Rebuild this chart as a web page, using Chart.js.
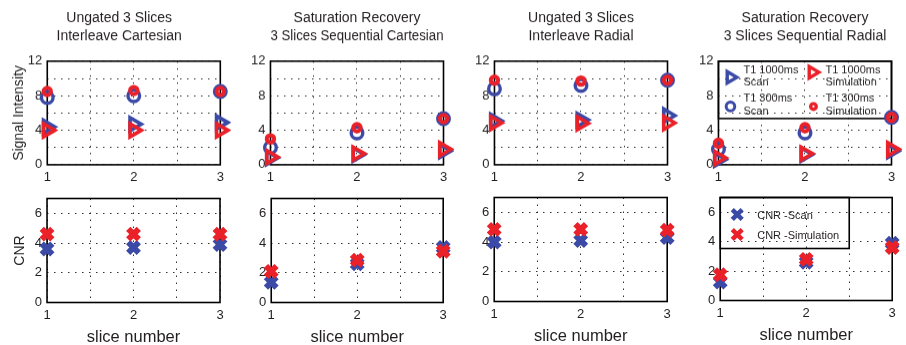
<!DOCTYPE html>
<html>
<head>
<meta charset="utf-8">
<script src="https://cdn.jsdelivr.net/npm/chart.js@4.4.1/dist/chart.umd.min.js"></script>
<style>
html,body{margin:0;padding:0;background:#fff;overflow:hidden;}
#root{position:relative;width:906px;height:345px;overflow:hidden;background:#fff;}
.cw{position:absolute;left:0;top:0;}
</style>
</head>
<body>
<div id="root"></div>
<script>
// ---------- data ----------
const slices = [1, 2, 3];
const sliceTicks = [1, 2, 3];
const signalTicks = [0, 4, 8, 12];
const cnrTicks = [0, 2, 4, 6];
const panelTitles = [
  ['Ungated 3 Slices', 'Interleave Cartesian'],
  ['Saturation Recovery', '3 Slices Sequential Cartesian'],
  ['Ungated 3 Slices', 'Interleave Radial'],
  ['Saturation Recovery', '3 Slices Sequential Radial']
];

// Ungated 3 slices, interleave Cartesian
const ucT1000Scan = [4.4, 4.7, 4.9];
const ucT1000Sim  = [4.0, 4.0, 4.0];
const ucT300Scan  = [7.8, 8.0, 8.5];
const ucT300Sim   = [8.5, 8.6, 8.5];
const ucCnrScan   = [3.6, 3.7, 3.9];
const ucCnrSim    = [4.6, 4.6, 4.6];

// Saturation recovery, 3 slices sequential Cartesian
const scT1000Scan = [0.8, 1.2, 1.6];
const scT1000Sim  = [0.9, 1.3, 1.8];
const scT300Scan  = [2.0, 3.7, 5.35];
const scT300Sim   = [3.0, 4.3, 5.35];
const scCnrScan   = [1.35, 2.6, 3.7];
const scCnrSim    = [2.1, 2.85, 3.45];

// Ungated 3 slices, interleave radial
const urT1000Scan = [5.1, 5.2, 5.7];
const urT1000Sim  = [4.85, 4.8, 4.85];
const urT300Scan  = [8.8, 9.2, 9.8];
const urT300Sim   = [9.8, 9.7, 9.8];
const urCnrScan   = [4.0, 4.1, 4.3];
const urCnrSim    = [4.85, 4.85, 4.8];

// Saturation recovery, 3 slices sequential radial
const srT1000Scan = [0.6, 1.2, 1.6];
const srT1000Sim  = [0.8, 1.3, 1.8];
const srT300Scan  = [1.8, 3.7, 5.5];
const srT300Sim   = [2.5, 4.3, 5.5];
const srCnrScan   = [1.25, 2.6, 3.9];
const srCnrSim    = [1.75, 2.8, 3.6];

// ---------- style ----------
const FONT = "'Liberation Sans', Arial, sans-serif";
const INK = '#231f20';
const BLUE = '#3b4aa7';
const RED = '#ea2129';
const GRID = '#333';

const topSeries = [
  [ucT1000Scan, ucT1000Sim, ucT300Scan, ucT300Sim],
  [scT1000Scan, scT1000Sim, scT300Scan, scT300Sim],
  [urT1000Scan, urT1000Sim, urT300Scan, urT300Sim],
  [srT1000Scan, srT1000Sim, srT300Scan, srT300Sim]
];
const botSeries = [
  [ucCnrScan, ucCnrSim],
  [scCnrScan, scCnrSim],
  [urCnrScan, urCnrSim],
  [srCnrScan, srCnrSim]
];

const topBoxes = [
  {L: 47, R: 220, T: 61, B: 164},
  {L: 270, R: 443, T: 61, B: 164},
  {L: 494, R: 667, T: 61, B: 164},
  {L: 718, R: 891, T: 61, B: 164}
];
const botBoxes = [
  {L: 47, R: 220, T: 198, B: 302},
  {L: 271, R: 443, T: 198, B: 302},
  {L: 494, R: 667, T: 197, B: 301},
  {L: 720, R: 892, T: 197, B: 300}
];

function pts(vals) { return slices.map((s, i) => ({x: s, y: vals[i]})); }

function ds(label, vals, style, color, r, bw, rot) {
  return {
    label, data: pts(vals), pointStyle: style, pointRadius: r, pointHoverRadius: r,
    pointBorderWidth: bw, pointHoverBorderWidth: bw, pointBorderColor: color,
    pointBackgroundColor: 'rgba(0,0,0,0)', pointRotation: rot || 0,
    borderColor: color, backgroundColor: 'rgba(0,0,0,0)', clip: false, showLine: false
  };
}

function mark(ctx, style, x, y, r, bw, color) {
  ctx.save();
  ctx.strokeStyle = color; ctx.lineWidth = bw; ctx.beginPath();
  if (style === 'triR') {
    for (let k = 0; k < 3; k++) {
      const a = Math.PI / 2 + k * 2 * Math.PI / 3;
      const px = x + Math.sin(a) * r, py = y - Math.cos(a) * r;
      if (k) ctx.lineTo(px, py); else ctx.moveTo(px, py);
    }
    ctx.closePath();
  } else if (style === 'circle') {
    ctx.arc(x, y, r, 0, Math.PI * 2);
  } else {
    const d = r * Math.SQRT1_2;
    ctx.moveTo(x - d, y - d); ctx.lineTo(x + d, y + d);
    ctx.moveTo(x + d, y - d); ctx.lineTo(x - d, y + d);
  }
  ctx.stroke();
  ctx.restore();
}

function txt(ctx, s, x, y) {
  ctx.save();
  ctx.font = '11px ' + FONT; ctx.fillStyle = INK;
  ctx.textBaseline = 'middle'; ctx.textAlign = 'left';
  ctx.fillText(s, x, y);
  ctx.restore();
}

const boxPlugin = {
  id: 'plotbox',
  beforeDatasetsDraw(chart) {
    const {ctx, chartArea: a} = chart;
    ctx.save();
    ctx.strokeStyle = '#000'; ctx.lineWidth = 1.6;
    ctx.strokeRect(a.left, a.top, a.right - a.left, a.bottom - a.top);
    ctx.restore();
  }
};

const topLegendPlugin = {
  id: 'topLegend',
  beforeDatasetsDraw(chart) {
    const {ctx, chartArea: a} = chart;
    const x0 = a.left, y0 = a.top;
    ctx.save(); ctx.strokeStyle = '#000'; ctx.lineWidth = 1.6;
    ctx.strokeRect(x0, y0, a.right - a.left, 57); ctx.restore();
    mark(ctx, 'triR', x0 + 12, y0 + 16, 6.5, 3.4, BLUE);
    txt(ctx, 'T1 1000ms', x0 + 25, y0 + 9); txt(ctx, 'Scan', x0 + 25, y0 + 21);
    mark(ctx, 'triR', x0 + 94, y0 + 11, 6.5, 3.4, RED);
    txt(ctx, 'T1 1000ms', x0 + 107, y0 + 9); txt(ctx, 'Simulation', x0 + 107, y0 + 21);
    mark(ctx, 'circle', x0 + 12, y0 + 45, 4.3, 3, BLUE);
    txt(ctx, 'T1 300ms', x0 + 25, y0 + 37); txt(ctx, 'Scan', x0 + 25, y0 + 50);
    mark(ctx, 'circle', x0 + 95, y0 + 45, 2.8, 3.4, RED);
    txt(ctx, 'T1 300ms', x0 + 107, y0 + 37); txt(ctx, 'Simulation', x0 + 107, y0 + 50);
  }
};

const botLegendPlugin = {
  id: 'botLegend',
  beforeDatasetsDraw(chart) {
    const {ctx, chartArea: a} = chart;
    const x0 = a.left, y0 = a.top;
    ctx.save(); ctx.strokeStyle = '#000'; ctx.lineWidth = 1.6;
    ctx.strokeRect(x0, y0, 129, 51); ctx.restore();
    mark(ctx, 'x', x0 + 17, y0 + 17, 7, 4.5, BLUE);
    txt(ctx, 'CNR -Scan', x0 + 37, y0 + 18);
    mark(ctx, 'x', x0 + 17, y0 + 37, 7, 4.5, RED);
    txt(ctx, 'CNR -Simulation', x0 + 37, y0 + 38);
  }
};

function scales(o) {
  const gridOpt = {color: GRID, lineWidth: 1, drawTicks: false};
  const borderOpt = {display: false, dash: [1.5, 5.5]};
  return {
    x: {
      type: 'linear', min: 1, max: 3,
      ticks: {stepSize: 0.5, autoSkip: false, maxRotation: 0, padding: 5, color: INK,
        font: {family: FONT, size: 13},
        callback: v => sliceTicks.includes(v) ? String(v) : ''},
      grid: gridOpt, border: borderOpt,
      title: o.xTitle ? {display: true, text: 'slice number', color: INK,
        font: {family: FONT, size: 16.5}, padding: {top: -1, bottom: 0}} : {display: false}
    },
    y: {
      type: 'linear', min: 0, max: o.ymax,
      ticks: {stepSize: 2, autoSkip: false, padding: 5, color: INK,
        font: {family: FONT, size: 13},
        callback: v => o.labels.includes(v) ? String(v) : ''},
      grid: gridOpt, border: borderOpt,
      title: o.yTitle ? {display: true, text: o.yTitle, color: INK,
        font: {family: FONT, size: 14}, padding: o.yPad} : {display: false}
    }
  };
}

const root = document.getElementById('root');

function place(cfg, box) {
  const wrap = document.createElement('div');
  wrap.className = 'cw';
  let w = (box.R - box.L) + 80, h = (box.B - box.T) + 90;
  wrap.style.width = w + 'px'; wrap.style.height = h + 'px';
  root.appendChild(wrap);
  const cv = document.createElement('canvas');
  wrap.appendChild(cv);
  const chart = new Chart(cv, cfg);
  for (let i = 0; i < 5; i++) {
    const a = chart.chartArea;
    w += (box.R - box.L) - (a.right - a.left);
    h += (box.B - box.T) - (a.bottom - a.top);
    wrap.style.width = w + 'px'; wrap.style.height = h + 'px';
    chart.resize();
  }
  const a = chart.chartArea;
  wrap.style.left = (box.L - a.left) + 'px';
  wrap.style.top = (box.T - a.top) + 'px';
  return chart;
}

function common(datasets, sc, plugins, title) {
  return {
    type: 'scatter',
    data: {datasets},
    options: {
      responsive: true, maintainAspectRatio: false, animation: false,
      devicePixelRatio: 1,
      layout: {padding: 0},
      events: [],
      plugins: {
        legend: {display: false},
        tooltip: {enabled: false},
        title: title || {display: false}
      },
      scales: sc
    },
    plugins
  };
}

for (let p = 0; p < 4; p++) {
  const [t1000Scan, t1000Sim, t300Scan, t300Sim] = topSeries[p];
  const datasets = [
    ds('T1 300ms Simulation', t300Sim, 'circle', RED, 3.7, 4),
    ds('T1 1000ms Simulation', t1000Sim, 'triangle', RED, 7.5, 3.6, 90),
    ds('T1 300ms Scan', t300Scan, 'circle', BLUE, 5.8, 3.4),
    ds('T1 1000ms Scan', t1000Scan, 'triangle', BLUE, 7.5, 3.6, 90)
  ];
  const sc = scales({ymax: 12, labels: signalTicks, xTitle: false,
    yTitle: p === 0 ? 'Signal Intensity' : null, yPad: {top: 4, bottom: -5}});
  const title = {display: true, text: panelTitles[p], color: INK, fullSize: p === 0,
    font: {family: FONT, size: 14, weight: 'normal', lineHeight: 1.3},
    padding: {top: 4, bottom: 15.5}};
  const plugins = p === 3 ? [boxPlugin, topLegendPlugin] : [boxPlugin];
  place(common(datasets, sc, plugins, title), topBoxes[p]);
}

for (let p = 0; p < 4; p++) {
  const [cnrScan, cnrSim] = botSeries[p];
  const datasets = [
    ds('CNR -Simulation', cnrSim, 'crossRot', RED, 7.5, 6),
    ds('CNR -Scan', cnrScan, 'crossRot', BLUE, 7.5, 6)
  ];
  const sc = scales({ymax: 7, labels: cnrTicks, xTitle: true,
    yTitle: p === 0 ? 'CNR' : null, yPad: {top: 4, bottom: 1}});
  const plugins = p === 3 ? [boxPlugin, botLegendPlugin] : [boxPlugin];
  place(common(datasets, sc, plugins, null), botBoxes[p]);
}
</script>
</body>
</html>
